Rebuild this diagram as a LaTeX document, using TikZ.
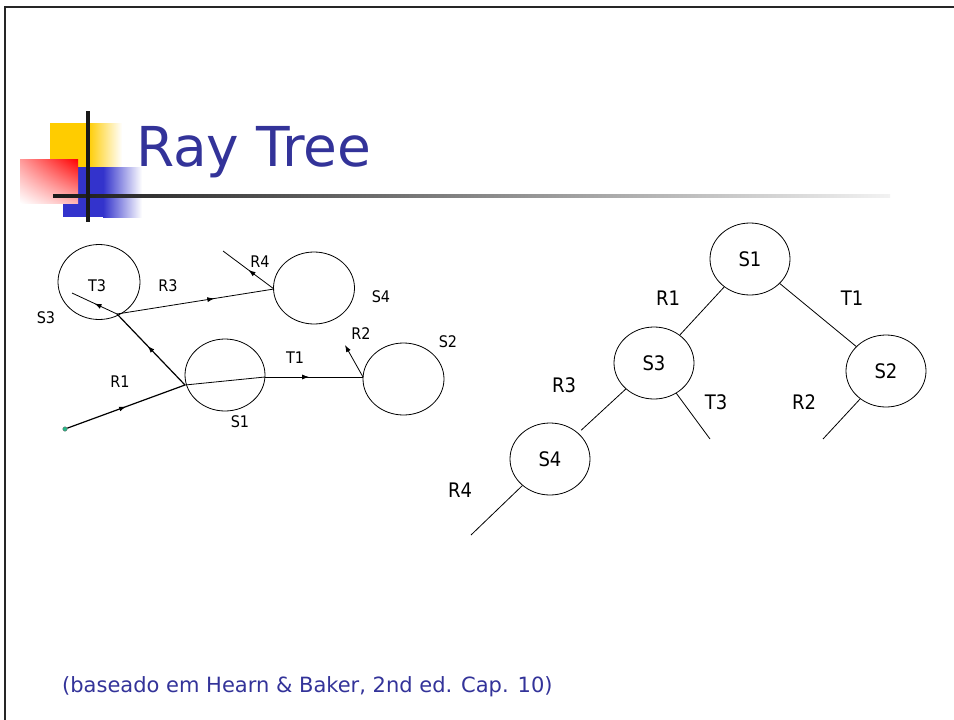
\documentclass[tikz,border=0pt]{standalone}
\usepackage{fontspec}
\setmainfont{DejaVu Sans Condensed}
\newfontfamily\widefont{DejaVu Sans}
\usetikzlibrary{shapes.geometric,decorations.markings,arrows.meta,shadings}
\definecolor{titleblue}{HTML}{333399}
\definecolor{logoyellow}{HTML}{FFCC00}
\definecolor{logoblue}{HTML}{3333CC}
\definecolor{eyegreen}{HTML}{22BB88}
\begin{document}
\begin{tikzpicture}[x=1pt,y=-1pt,
  sph/.style={draw, ellipse, line width=0.8pt, inner sep=0pt, minimum width=80pt, minimum height=72pt},
  tnode/.style={sph, font=\fontsize{20}{24}\selectfont},
  lbl/.style={font=\fontsize{16}{18}\selectfont, inner sep=0pt},
  tlbl/.style={font=\fontsize{20}{24}\selectfont, inner sep=0pt},
  ray/.style={line width=0.8pt},
  thickray/.style={line width=1.2pt},
  tedge/.style={line width=0.8pt},
  midarrow/.style={postaction={decorate}, decoration={markings, mark=at position #1 with {\arrow{Latex[length=7pt,width=5pt]}}}},
]
\useasboundingbox (0,0) rectangle (954,720);

% slide border
\draw[line width=2pt, black!85] (5,720) -- (5,7) -- (954,7);

% logo
\fill[logoyellow] (50,123) rectangle (88,167);
\shade[left color=logoyellow, right color=white] (88,123) rectangle (122,167);
\fill[logoblue] (63,167) rectangle (103,217);
\shade[left color=logoblue, right color=white] (103,167) rectangle (142,217);
\shade[upper left=red!40, upper right=red, lower left=white, lower right=red!30] (20,159) rectangle (78,203);
\shade[left color=black!90, right color=black!5] (53,194) rectangle (890,197.5);
\draw[line width=3.5pt, black!90] (88,111) -- (88,222);

% title
\node[anchor=base west, inner sep=0pt, text=titleblue, font=\widefont\fontsize{55}{60}\selectfont] (title) at (136,166) {Ray Tree};

% left diagram: spheres
\node[sph, minimum width=82pt, minimum height=75pt] (ls3) at (99,282) {};
\node[sph, minimum width=81pt, minimum height=72pt] (ls4) at (314,288) {};
\node[sph] (ls1) at (225,375) {};
\node[sph, minimum width=81pt] (ls2) at (403.5,379) {};

\node[circle, fill=eyegreen, draw=black!60, line width=0.4pt, inner sep=0pt, minimum size=4.5pt] (eye) at (65,429) {};
\coordinate (h1) at (185,385);
\coordinate (h1out) at (265,377);
\coordinate (h3) at (117,314);
\coordinate (t3end) at (72,293);
\coordinate (h4) at (274,289);
\coordinate (r4end) at (223,251);
\coordinate (h2) at (363,377);
\coordinate (r2end) at (345,345);

\draw[thickray, midarrow=0.5] (eye) -- (h1);
\draw[thickray, midarrow=0.55] (h1) -- (h3);
\draw[ray] (h1) -- (h1out);
\draw[ray, midarrow=0.45] (h1out) -- (h2);
\draw[ray, -{Latex[length=7pt,width=5pt]}] (h2) -- (r2end);
\draw[ray, midarrow=0.5] (h3) -- (t3end);
\draw[ray, midarrow=0.62] (h3) -- (h4);
\draw[ray, midarrow=0.5] (h4) -- (r4end);

\node[lbl] (lt3) at (97,286) {T3};
\node[lbl] (lr3) at (168,286) {R3};
\node[lbl] (ls3l) at (46,318) {S3};
\node[lbl] (lr4) at (260,262) {R4};
\node[lbl] (ls4l) at (381,297) {S4};
\node[lbl] (lr2) at (361,334) {R2};
\node[lbl] (ls2l) at (448,342) {S2};
\node[lbl] (lt1) at (295,358) {T1};
\node[lbl] (lr1) at (120,382) {R1};
\node[lbl] (ls1l) at (240,422) {S1};

% ray tree
\node[tnode] (ts1) at (750,259) {S1};
\node[tnode] (ts3) at (654,363) {S3};
\node[tnode] (ts2) at (886,371) {S2};
\node[tnode] (ts4) at (550,459) {S4};
\coordinate (tt3) at (710,439);
\coordinate (tr2) at (823,439);
\coordinate (tr4) at (471,535);

\draw[tedge] (ts1) -- (ts3);
\draw[tedge] (ts1) -- (ts2);
\draw[tedge, shorten >=4pt] (ts3) -- (ts4);
\draw[tedge] (ts3) -- (tt3);
\draw[tedge] (ts2) -- (tr2);
\draw[tedge] (ts4) -- (tr4);

\node[tlbl] (tlr1) at (668,298) {R1};
\node[tlbl] (tlt1) at (852,298) {T1};
\node[tlbl] (tlr3) at (564,385) {R3};
\node[tlbl] (tlt3) at (716,402) {T3};
\node[tlbl] (tlr2) at (804,402) {R2};
\node[tlbl] (tlr4) at (460,490) {R4};

% footer
\node[anchor=base west, inner sep=0pt, text=titleblue, font=\widefont\fontsize{21}{24}\selectfont] (foot) at (62,692) {(baseado em Hearn \& Baker, 2nd ed. Cap. 10)};
\end{tikzpicture}
\end{document}
